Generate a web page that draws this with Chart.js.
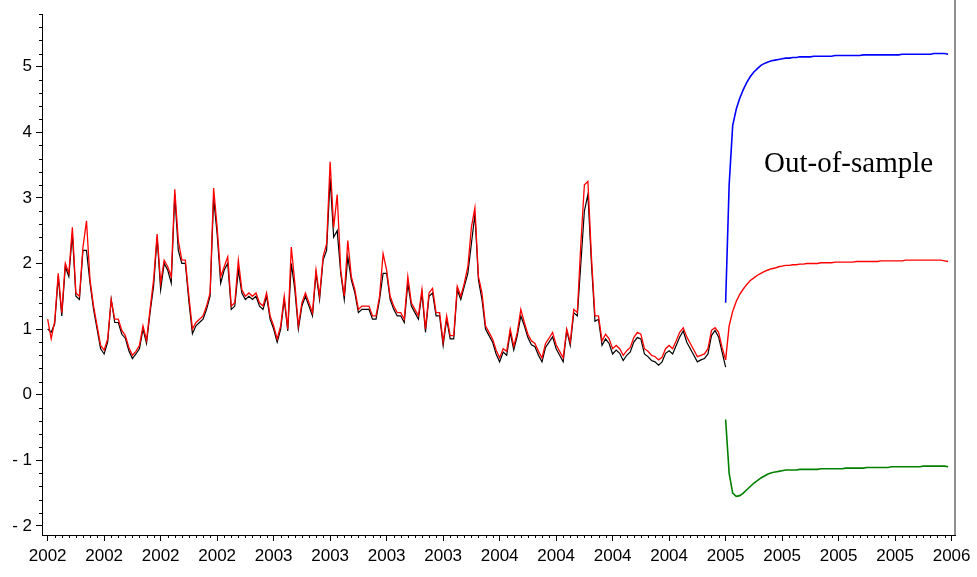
<!DOCTYPE html>
<html>
<head>
<meta charset="utf-8">
<script src="https://cdn.jsdelivr.net/npm/chart.js@4.4.1/dist/chart.umd.min.js"></script>
<style>
  html, body { margin: 0; padding: 0; background: #fff; }
  #wrap { position: relative; width: 977px; height: 577px; }
</style>
</head>
<body>
<div id="wrap"><canvas id="grafico"></canvas></div>
<script>
// tick labels under the 17 major x ticks
const xLabels = ['2002', '2002', '2002', '2002', '2003', '2003', '2003', '2003',
                 '2004', '2004', '2004', '2004', '2005', '2005', '2005', '2005', '2006']

// one point every 1/16 of a major tick interval
const STEP = 1 / 16
const FORECAST_START = 12

// in-sample, observed (black)
const observado = [
  1.0, 0.95, 1.08, 1.8, 1.2, 1.95, 1.8, 2.45, 1.5, 1.45,
  2.2, 2.2, 1.7, 1.3, 1.0, 0.7, 0.62, 0.8, 1.45, 1.1,
  1.1, 0.92, 0.86, 0.67, 0.55, 0.62, 0.7, 1.0, 0.78, 1.25,
  1.65, 2.4, 1.6, 2.0, 1.9, 1.7, 3.05, 2.2, 2.0, 2.0,
  1.42, 0.93, 1.05, 1.1, 1.15, 1.3, 1.5, 3.0, 2.45, 1.7,
  1.9, 2.0, 1.3, 1.35, 1.9, 1.55, 1.45, 1.5, 1.45, 1.5,
  1.35, 1.3, 1.5, 1.15, 1.0, 0.8, 1.0, 1.45, 0.97, 2.0,
  1.6, 1.0, 1.35, 1.5, 1.35, 1.2, 1.85, 1.45, 2.05, 2.2,
  3.3, 2.4, 2.5, 1.85, 1.45, 2.1, 1.75, 1.55, 1.25, 1.3,
  1.3, 1.3, 1.15, 1.15, 1.45, 1.85, 1.85, 1.45, 1.3, 1.2,
  1.2, 1.1, 1.7, 1.35, 1.25, 1.15, 1.55, 0.95, 1.5, 1.55,
  1.2, 1.2, 0.75, 1.15, 0.85, 0.85, 1.6, 1.45, 1.65, 1.85,
  2.3, 2.75, 1.75, 1.45, 1.0, 0.9, 0.8, 0.62, 0.5, 0.65,
  0.6, 0.95, 0.68, 0.9, 1.2, 1.05, 0.87, 0.76, 0.73, 0.6,
  0.5, 0.72, 0.8, 0.88, 0.7, 0.6, 0.5, 0.98, 0.75, 1.25,
  1.2, 2.0, 2.8, 3.05, 2.0, 1.12, 1.15, 0.75, 0.85, 0.78,
  0.62, 0.68, 0.63, 0.52, 0.6, 0.65, 0.8, 0.87, 0.85, 0.62,
  0.58, 0.52, 0.5, 0.45, 0.5, 0.63, 0.67, 0.62, 0.75, 0.88,
  0.97, 0.8, 0.7, 0.6, 0.5, 0.53, 0.55, 0.62, 0.9, 0.98,
  0.88, 0.65, 0.42
]

// in-sample, fitted (red)
const ajustado = [
  1.15, 0.85, 1.12, 1.85, 1.25, 2.0, 1.85, 2.55, 1.55, 1.5,
  2.25, 2.65, 1.75, 1.35, 1.05, 0.75, 0.68, 0.85, 1.45, 1.15,
  1.15, 0.98, 0.9, 0.72, 0.6, 0.66, 0.75, 1.05, 0.83, 1.3,
  1.75, 2.45, 1.7, 2.05, 1.95, 1.8, 3.13, 2.35, 2.05, 2.05,
  1.5, 1.0, 1.1, 1.15, 1.2, 1.35, 1.55, 3.15, 2.55, 1.8,
  1.95, 2.1, 1.35, 1.4, 2.05, 1.6, 1.5, 1.55, 1.5, 1.55,
  1.4, 1.35, 1.55, 1.2, 1.05, 0.85, 1.05, 1.5, 1.0, 2.25,
  1.7, 1.05, 1.4, 1.55, 1.4, 1.25, 1.9, 1.5, 2.1, 2.3,
  3.55, 2.55, 3.05, 1.9, 1.5, 2.35, 1.8, 1.6, 1.3, 1.35,
  1.35, 1.35, 1.2, 1.2, 1.5, 2.15, 1.9, 1.5, 1.35, 1.25,
  1.25, 1.15, 1.8, 1.4, 1.3, 1.2, 1.6, 1.0, 1.55, 1.62,
  1.25, 1.25, 0.8, 1.2, 0.9, 0.9, 1.65, 1.5, 1.7, 1.95,
  2.55, 2.85, 1.8, 1.55, 1.05, 0.95, 0.85, 0.68, 0.56, 0.7,
  0.66, 1.0, 0.74, 0.95, 1.3, 1.1, 0.92, 0.82, 0.78, 0.66,
  0.56, 0.78, 0.86, 0.95, 0.76, 0.66, 0.56, 1.0, 0.8, 1.3,
  1.25, 2.3, 3.2, 3.25, 2.1, 1.2, 1.2, 0.82, 0.92, 0.85,
  0.7, 0.75, 0.7, 0.6, 0.67, 0.72, 0.87, 0.95, 0.92, 0.7,
  0.66, 0.6, 0.58, 0.53, 0.57, 0.7, 0.75, 0.7, 0.82, 0.95,
  1.02, 0.88, 0.78, 0.68, 0.58, 0.6, 0.62, 0.7, 0.98, 1.02,
  0.95, 0.72, 0.53
]

// out-of-sample forecasts, starting at FORECAST_START
const pronosticoRojo = [
  0.53, 1.05, 1.27, 1.42, 1.53, 1.61, 1.68, 1.74, 1.78, 1.82,
  1.85, 1.88, 1.9, 1.92, 1.93, 1.95, 1.96, 1.97, 1.97, 1.98,
  1.98, 1.99, 1.99, 2.0, 2.0, 2.0, 2.0, 2.01, 2.01, 2.01,
  2.01, 2.02, 2.02, 2.02, 2.02, 2.02, 2.02, 2.03, 2.03, 2.03,
  2.03, 2.03, 2.03, 2.03, 2.04, 2.04, 2.04, 2.04, 2.04, 2.04,
  2.04, 2.05, 2.05, 2.05, 2.05, 2.05, 2.05, 2.05, 2.05, 2.05,
  2.05, 2.05, 2.04, 2.03
]

const pronosticoAzul = [
  1.4, 3.2, 4.1, 4.35, 4.52, 4.65, 4.76, 4.85, 4.92, 4.97,
  5.02, 5.05, 5.07, 5.09, 5.1, 5.11, 5.12, 5.13, 5.13, 5.14,
  5.14, 5.15, 5.15, 5.15, 5.15, 5.16, 5.16, 5.16, 5.16, 5.16,
  5.16, 5.17, 5.17, 5.17, 5.17, 5.17, 5.17, 5.17, 5.17, 5.18,
  5.18, 5.18, 5.18, 5.18, 5.18, 5.18, 5.18, 5.18, 5.18, 5.18,
  5.19, 5.19, 5.19, 5.19, 5.19, 5.19, 5.19, 5.19, 5.19, 5.2,
  5.2, 5.2, 5.2, 5.19
]

const pronosticoVerde = [
  -0.38, -1.2, -1.5, -1.55, -1.54, -1.5, -1.45, -1.4, -1.35, -1.31,
  -1.27, -1.24, -1.21, -1.19, -1.18, -1.17, -1.16, -1.15, -1.15, -1.15,
  -1.15, -1.14, -1.14, -1.14, -1.14, -1.14, -1.14, -1.13, -1.13, -1.13,
  -1.13, -1.13, -1.13, -1.13, -1.12, -1.12, -1.12, -1.12, -1.12, -1.12,
  -1.11, -1.11, -1.11, -1.11, -1.11, -1.11, -1.11, -1.1, -1.1, -1.1,
  -1.1, -1.1, -1.1, -1.1, -1.1, -1.1, -1.09, -1.09, -1.09, -1.09,
  -1.09, -1.09, -1.09, -1.1
]

const Y_MIN = -2.14
const Y_MAX = 5.8
const X_MIN = -0.1
const X_MAX = 16.06

const enMuestra = arr => arr.map((v, i) => ({ x: i * STEP, y: v }))
const fueraMuestra = arr => arr.map((v, j) => ({ x: FORECAST_START + j * STEP, y: v }))

const linea = (data, color, width) => ({
  data: data,
  borderColor: color,
  borderWidth: width,
  pointRadius: 0,
  tension: 0,
  fill: false
})

// minor ticks, the grey right frame line, and the "Out-of-sample" note
const extras = {
  id: 'extras',
  afterDraw(chart) {
    const { ctx, scales: { x, y } } = chart
    ctx.save()
    ctx.strokeStyle = '#000'
    ctx.lineWidth = 1
    ctx.beginPath()
    for (let k = 0; k <= 16 * 8; k++) {
      if (k % 8 === 0) continue
      const px = Math.round(x.getPixelForValue(k / 8)) + 0.5
      ctx.moveTo(px, y.bottom)
      ctx.lineTo(px, y.bottom + 3)
    }
    for (let k = -10; k <= 29; k++) {
      if (k % 5 === 0) continue
      const py = Math.round(y.getPixelForValue(k / 5)) + 0.5
      ctx.moveTo(x.left, py)
      ctx.lineTo(x.left - 3, py)
    }
    ctx.stroke()

    ctx.strokeStyle = '#6a6a6a'
    ctx.lineWidth = 1.5
    ctx.beginPath()
    ctx.moveTo(x.right, 0)
    ctx.lineTo(x.right, y.bottom)
    ctx.stroke()

    ctx.font = '29px "Liberation Serif", "Times New Roman", serif'
    ctx.fillStyle = '#000'
    ctx.textBaseline = 'alphabetic'
    ctx.fillText('Out-of-sample', x.getPixelForValue(12.68), y.getPixelForValue(3.4))
    ctx.restore()
  }
}

const fuenteEje = { family: '"Liberation Sans", Arial, sans-serif', size: 17 }

new Chart(document.getElementById('grafico'), {
  type: 'line',
  data: {
    datasets: [
      linea(enMuestra(ajustado), '#ff0000', 1.3),
      linea(fueraMuestra(pronosticoRojo), '#ff0000', 1.4),
      linea(fueraMuestra(pronosticoAzul), '#0000ff', 1.6),
      linea(fueraMuestra(pronosticoVerde), '#008000', 1.6),
      linea(enMuestra(observado), '#000000', 1.2)
    ]
  },
  plugins: [extras],
  options: {
    responsive: true,
    maintainAspectRatio: false,
    animation: false,
    layout: { padding: { top: 8, left: 0, right: 22, bottom: 0 } },
    plugins: {
      legend: { display: false },
      tooltip: { enabled: false }
    },
    scales: {
      x: {
        type: 'linear',
        min: X_MIN,
        max: X_MAX,
        afterBuildTicks: axis => { axis.ticks = xLabels.map((l, i) => ({ value: i })) },
        afterFit: axis => { axis.height = 42 },
        ticks: {
          callback: v => xLabels[Math.round(v)],
          color: '#000',
          font: fuenteEje,
          maxRotation: 0,
          autoSkip: false,
          padding: 5
        },
        grid: { drawOnChartArea: false, drawTicks: true, tickLength: 6, tickColor: '#000', tickWidth: 1 },
        border: { display: true, color: '#000', width: 1 }
      },
      y: {
        min: Y_MIN,
        max: Y_MAX,
        afterBuildTicks: axis => {
          const t = []
          for (let v = -2; v <= 5; v++) t.push({ value: v })
          axis.ticks = t
        },
        afterFit: axis => { axis.width = 42 },
        ticks: {
          callback: v => v < 0 ? '- ' + Math.abs(v) : String(v),
          color: '#000',
          font: fuenteEje,
          padding: 4
        },
        grid: { drawOnChartArea: false, drawTicks: true, tickLength: 6, tickColor: '#000', tickWidth: 1 },
        border: { display: true, color: '#000', width: 1 }
      }
    }
  }
})
</script>
</body>
</html>
